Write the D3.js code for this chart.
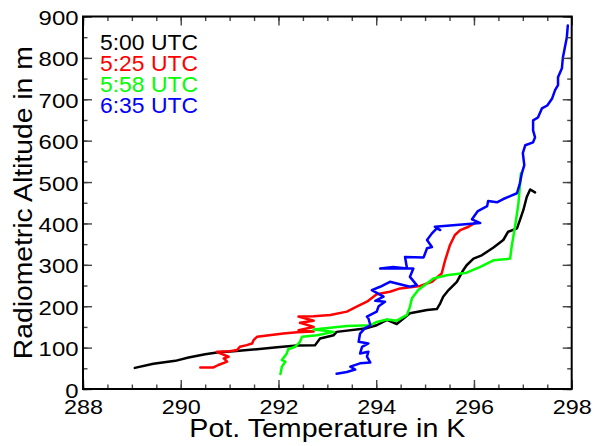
<!DOCTYPE html>
<html>
<head>
<meta charset="utf-8">
<script src="https://cdn.jsdelivr.net/npm/d3@7"></script>
<style>
html,body{margin:0;padding:0;background:#fff;}
svg{display:block;}
text{font-family:"Liberation Sans",Arial,Helvetica,sans-serif;}
</style>
</head>
<body>
<svg id="chart" width="594" height="446"></svg>
<script>
// ---- data (potential temperature in K, radiometric altitude in m) ----
const seriesNames = ["5:00 UTC", "5:25 UTC", "5:58 UTC", "6:35 UTC"];
const seriesColors = ["#000000", "#ff0000", "#00ff00", "#0000ff"];

const temp500 = [289.06, 289.44, 289.89, 290.16, 290.50, 290.74, 291.08, 291.56, 291.97, 292.38, 292.75, 292.85, 293.13, 293.19, 293.81, 294.01, 294.22, 294.42, 294.69, 295.04, 295.24, 295.31, 295.37, 295.48, 295.65, 295.78, 295.85, 295.99, 296.16, 296.40, 296.60, 296.70, 296.88, 296.94, 297.01, 297.08, 297.15, 297.25];
const alt500  = [51, 61, 68, 76, 84, 88, 91, 96, 101, 105, 106, 122, 130, 138, 147, 154, 167, 157, 183, 191, 193, 207, 223, 239, 259, 287, 299, 315, 323, 342, 360, 380, 388, 408, 432, 464, 482, 475];

const temp525 = [290.40, 290.67, 290.77, 290.95, 290.88, 290.98, 290.81, 290.74, 291.01, 291.15, 291.21, 291.35, 291.46, 291.49, 291.56, 292.10, 292.38, 292.72, 292.41, 292.72, 292.44, 292.72, 292.41, 292.72, 293.06, 293.40, 293.60, 293.81, 294.01, 294.28, 294.49, 294.90, 295.14, 295.34, 295.41, 295.51, 295.61, 295.72, 295.89, 296.02];
const alt525  = [52, 52, 58, 66, 74, 78, 86, 90, 91, 94, 102, 106, 110, 118, 126, 134, 137, 139, 142, 150, 160, 165, 175, 176, 179, 187, 199, 211, 229, 235, 243, 249, 259, 279, 311, 348, 372, 384, 392, 401];

const temp558 = [292.04, 292.07, 292.14, 292.07, 292.17, 292.20, 292.34, 292.44, 292.48, 292.79, 293.13, 292.72, 293.40, 293.88, 294.01, 294.22, 294.42, 294.63, 294.69, 294.73, 294.86, 295.17, 295.44, 295.85, 296.13, 296.40, 296.74, 296.77, 296.84, 296.91, 296.96];
const alt558  = [36, 54, 66, 70, 86, 96, 102, 114, 126, 130, 138, 144, 152, 154, 162, 168, 165, 179, 199, 219, 239, 267, 275, 281, 295, 311, 315, 343, 392, 448, 521];

const temp635 = [293.19, 293.40, 293.57, 293.47, 293.67, 293.88, 293.81, 293.84, 293.67, 293.71, 293.84, 293.64, 293.67, 293.77, 293.88, 293.84, 293.81, 294.01, 294.05, 294.18, 293.98, 294.15, 293.91, 294.08, 294.28, 294.69, 294.83, 294.69, 294.76, 294.08, 294.35, 294.63, 294.59, 294.97, 295.04, 295.14, 295.04, 295.14, 295.24, 295.31, 295.20, 296.13, 295.96, 296.08, 296.27, 296.29, 296.47, 296.60, 296.74, 296.88, 296.94, 296.98, 297.03, 297.00, 297.05, 297.21, 297.25, 297.21, 297.21, 297.31, 297.39, 297.50, 297.60, 297.66, 297.72, 297.72, 297.80, 297.82, 297.86, 297.90, 297.92];
const alt635  = [37, 41, 47, 54, 62, 64, 78, 90, 86, 102, 110, 114, 134, 147, 154, 171, 175, 187, 200, 211, 213, 223, 239, 247, 259, 247, 251, 271, 291, 291, 295, 291, 319, 318, 340, 343, 360, 376, 388, 384, 392, 401, 410, 430, 442, 454, 451, 459, 466, 473, 497, 521, 541, 570, 589, 596, 608, 625, 649, 656, 678, 685, 702, 722, 734, 753, 775, 801, 825, 849, 878];

const xTickValues = [288, 290, 292, 294, 296, 298];
const yTickValues = [0, 100, 200, 300, 400, 500, 600, 700, 800, 900];
const xMinorValues = d3.range(288, 298.01, 0.5);
const yMinorValues = d3.range(0, 900.1, 50);
const xTitle = "Pot. Temperature in K";
const yTitle = "Radiometric Altitude in m";

// ---- layout ----
const margin = {left: 83, top: 16.5, right: 22.3, bottom: 57};
const W = 594 - margin.left - margin.right;
const H = 446 - margin.top - margin.bottom;

const svg = d3.select("#chart");
const g = svg.append("g").attr("transform", `translate(${margin.left},${margin.top})`);

const x = d3.scaleLinear().domain([288, 298]).range([0, W]);
const y = d3.scaleLinear().domain([0, 900]).range([H, 0]);

// ---- series ----
const series = [
  {t: temp500, a: alt500},
  {t: temp525, a: alt525},
  {t: temp558, a: alt558},
  {t: temp635, a: alt635}
];
const line = d3.line().x(d => x(d[0])).y(d => y(d[1]));
series.forEach((s, i) => {
  const pts = s.t.map((v, k) => [v, s.a[k]]);
  g.append("path")
    .attr("d", line(pts))
    .attr("fill", "none")
    .attr("stroke", seriesColors[i])
    .attr("stroke-width", 2.5)
    .attr("stroke-linejoin", "round")
    .attr("stroke-linecap", "round");
});

// ---- axes ----
const tickColor = "#444";
function styleAxis(sel) {
  sel.select(".domain").remove();
  sel.selectAll(".tick line").attr("stroke", tickColor).attr("stroke-width", 1.4);
}
// minor ticks
g.append("g").attr("transform", `translate(0,${H})`)
  .call(d3.axisBottom(x).tickValues(xMinorValues).tickSizeInner(-4.5).tickSizeOuter(0).tickFormat(""))
  .call(styleAxis);
g.append("g")
  .call(d3.axisTop(x).tickValues(xMinorValues).tickSizeInner(-4.5).tickSizeOuter(0).tickFormat(""))
  .call(styleAxis);
g.append("g")
  .call(d3.axisLeft(y).tickValues(yMinorValues).tickSizeInner(-4.5).tickSizeOuter(0).tickFormat(""))
  .call(styleAxis);
g.append("g").attr("transform", `translate(${W},0)`)
  .call(d3.axisRight(y).tickValues(yMinorValues).tickSizeInner(-4.5).tickSizeOuter(0).tickFormat(""))
  .call(styleAxis);

// major ticks
const xAx = g.append("g").attr("transform", `translate(0,${H})`)
  .call(d3.axisBottom(x).tickValues(xTickValues).tickSizeInner(-9).tickSizeOuter(0).tickFormat(d3.format("d")))
  .call(styleAxis);
xAx.selectAll(".tick text")
  .attr("y", 24.5).attr("dy", 0)
  .attr("fill", "#000")
  .style("font-size", "21px")
  .attr("textLength", d => String(d).length * 13)
  .attr("lengthAdjust", "spacingAndGlyphs");

const yAx = g.append("g")
  .call(d3.axisLeft(y).tickValues(yTickValues).tickSizeInner(-9).tickSizeOuter(0).tickPadding(4.5).tickFormat(d3.format("d")))
  .call(styleAxis);
yAx.selectAll(".tick text")
  .attr("dy", 8)
  .attr("fill", "#000")
  .style("font-size", "21px")
  .attr("textLength", d => String(d).length * 13.3)
  .attr("lengthAdjust", "spacingAndGlyphs");

g.append("g")
  .call(d3.axisTop(x).tickValues(xTickValues).tickSizeInner(-9).tickSizeOuter(0).tickFormat(""))
  .call(styleAxis);
g.append("g").attr("transform", `translate(${W},0)`)
  .call(d3.axisRight(y).tickValues(yTickValues).tickSizeInner(-9).tickSizeOuter(0).tickFormat(""))
  .call(styleAxis);

// frame
g.append("rect")
  .attr("x", 0).attr("y", 0).attr("width", W).attr("height", H)
  .attr("fill", "none").attr("stroke", "#000").attr("stroke-width", 2);

// ---- titles ----
svg.append("text")
  .attr("x", margin.left + W / 2).attr("y", 437)
  .attr("text-anchor", "middle")
  .style("font-size", "25px")
  .attr("textLength", 276).attr("lengthAdjust", "spacingAndGlyphs")
  .text(xTitle);

svg.append("text")
  .attr("transform", `translate(31.5,${margin.top + H / 2}) rotate(-90)`)
  .attr("text-anchor", "middle")
  .style("font-size", "25px")
  .attr("textLength", 313).attr("lengthAdjust", "spacingAndGlyphs")
  .text(yTitle);

// ---- legend ----
const legend = svg.append("g");
seriesNames.forEach((name, i) => {
  legend.append("text")
    .attr("x", 100).attr("y", 49.5 + i * 21)
    .attr("fill", seriesColors[i])
    .style("font-size", "22px")
    .attr("textLength", 98).attr("lengthAdjust", "spacingAndGlyphs")
    .text(name);
});
</script>
</body>
</html>
